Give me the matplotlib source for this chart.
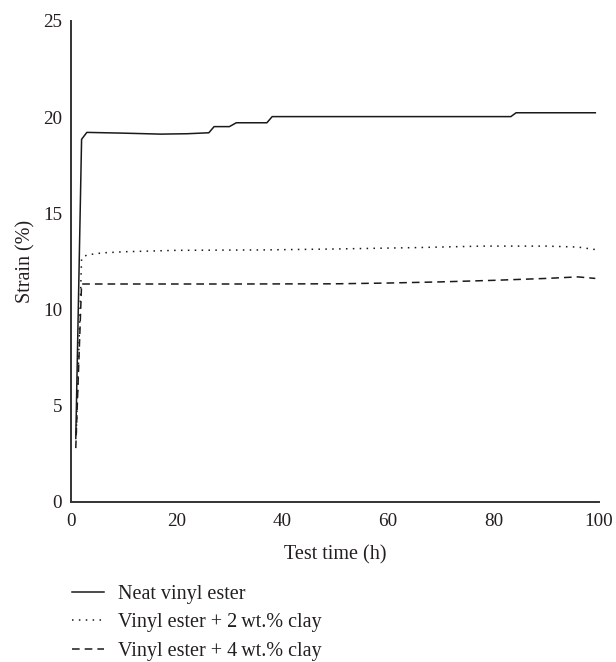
import matplotlib
matplotlib.use("Agg")
import matplotlib.pyplot as plt

# Creep strain versus test time for the three resin systems
neat_time = [0.9, 2.0, 3.0, 10.0, 17.0, 22.0, 26.1, 27.1, 30.0, 31.3, 37.1, 38.1, 83.3, 84.3, 99.3]
neat_strain = [3.3, 18.85, 19.21, 19.17, 19.12, 19.14, 19.19, 19.51, 19.51, 19.71, 19.71, 20.03, 20.03, 20.23, 20.23]

clay2_time = [1.0, 2.0, 3.0, 6.0, 10.6, 20.0, 36.0, 50.0, 65.0, 78.0, 90.0, 96.0, 99.3]
clay2_strain = [3.6, 12.66, 12.84, 12.95, 13.01, 13.08, 13.1, 13.15, 13.22, 13.3, 13.3, 13.25, 13.12]

clay4_time = [0.9, 2.0, 10.0, 30.0, 50.0, 60.0, 70.0, 80.0, 90.0, 96.0, 99.3]
clay4_strain = [2.8, 11.33, 11.33, 11.33, 11.34, 11.38, 11.44, 11.52, 11.62, 11.7, 11.62]

series_labels = ["Neat vinyl ester", "Vinyl ester + 2\u2009wt.% clay", "Vinyl ester + 4\u2009wt.% clay"]
x_ticks = [0, 20, 40, 60, 80, 100]
y_ticks = [0, 5, 10, 15, 20, 25]

plt.rcParams["font.family"] = ["Liberation Serif", "DejaVu Serif"]
plt.rcParams["font.size"] = 14.5

fig = plt.figure(figsize=(6.16, 6.62), dpi=100)
ax = fig.add_axes([0.1153, 0.2417, 0.8571, 0.7266])

line_color = "#1a1a1a"
text_color = "#231f20"
lw = 1.1
h1, = ax.plot(neat_time, neat_strain, color=line_color, lw=lw, linestyle="-")
h2, = ax.plot(clay2_time, clay2_strain, color=line_color, lw=lw, linestyle=(0, (1, 3.5)))
h3, = ax.plot(clay4_time, clay4_strain, color=line_color, lw=lw, linestyle=(0, (5, 3.3)))

ax.set_xlim(0, 100)
ax.set_ylim(0, 25)
ax.set_xticks(x_ticks)
ax.set_yticks(y_ticks)
ax.tick_params(length=0, colors=text_color, labelsize=13.8)
ax.tick_params(axis="y", pad=6.5)
ax.tick_params(axis="x", pad=8)
for side in ["top", "right"]:
    ax.spines[side].set_visible(False)
for side in ["left", "bottom"]:
    ax.spines[side].set_linewidth(1.4)
    ax.spines[side].set_color("#333333")

ax.set_xlabel("Test time (h)", labelpad=11, color=text_color)
ax.set_ylabel("Strain (%)", labelpad=5.5, color=text_color)

fig.legend([h1, h2, h3], series_labels, loc="upper left",
           bbox_to_anchor=(0.1169, 0.1160), frameon=False,
           handlelength=1.57, handletextpad=0.73, labelspacing=0.45,
           borderaxespad=0, borderpad=0, labelcolor=text_color)

fig.savefig("out.png", dpi=100, facecolor="white")
